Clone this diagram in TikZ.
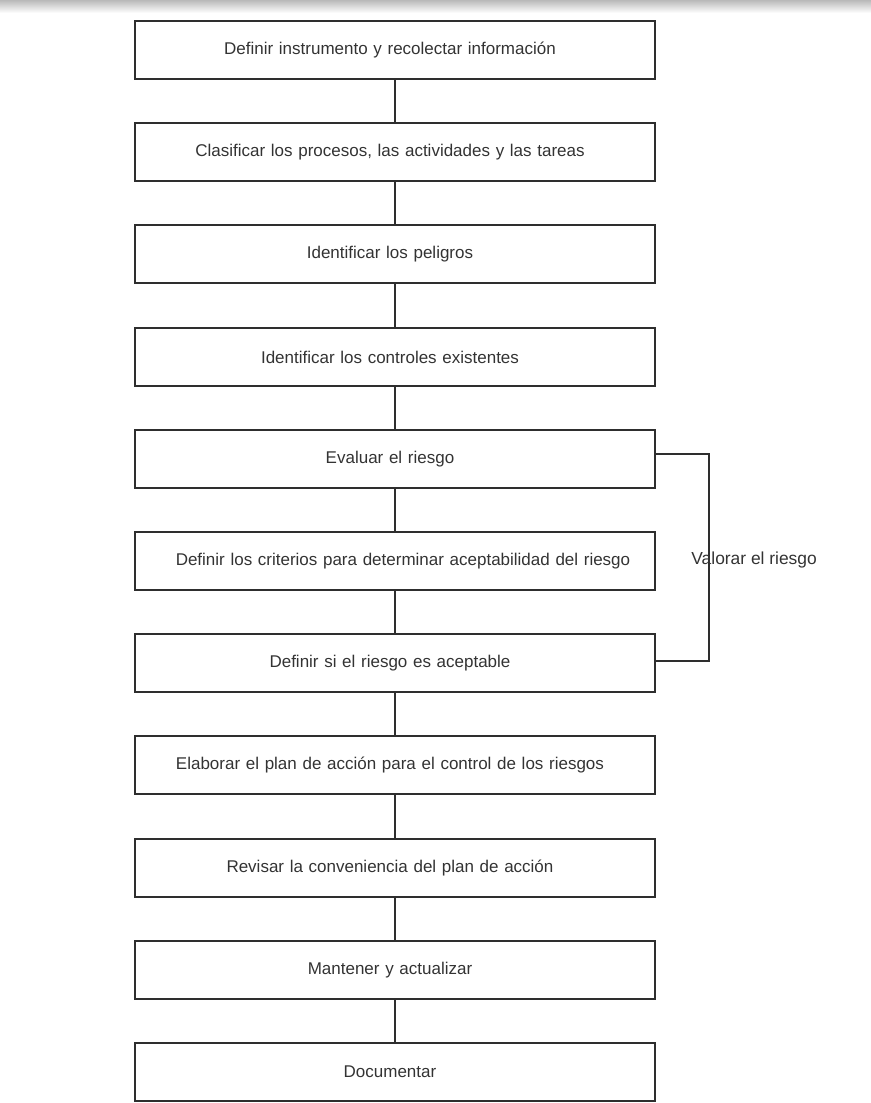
\documentclass[tikz,border=0pt]{standalone}
\usepackage{fontspec}
\setmainfont{Liberation Sans}
\usepackage{tikz}
\definecolor{linegray}{HTML}{2E2E2E}
\definecolor{textgray}{HTML}{333333}
\begin{document}
\begin{tikzpicture}[x=0.5pt, y=-0.5pt,
	shift text/.style={execute at begin node={\hspace*{#1}}},
	stepbox/.style={draw=linegray, line width=0.9pt, minimum height=29pt, text width=260pt, align=center, inner xsep=0pt, inner ysep=0pt, text=textgray, font=\fontsize{8.5}{10}\selectfont, shift text=-5pt},
	link/.style={draw=linegray, line width=0.9pt}]
	\useasboundingbox (0,0) rectangle (871,1103);
	% shadow strip along the top edge
	\shade [top color=gray!55, bottom color=white] (0,0) rectangle (871,13);
	\node [stepbox] (instr) at (395,50) {Definir instrumento y recolectar información};
	\node [stepbox] (clasif) at (395,152) {Clasificar los procesos, las actividades y las tareas};
	\node [stepbox] (pelig) at (395,254) {Identificar los peligros};
	\node [stepbox] (contr) at (395,357) {Identificar los controles existentes};
	\node [stepbox] (eval) at (395,459) {Evaluar el riesgo};
	\node [stepbox, shift text=13pt] (crit) at (395,561) {Definir los criterios para determinar aceptabilidad del riesgo};
	\node [stepbox] (acept) at (395,663) {Definir si el riesgo es aceptable};
	\node [stepbox] (plan) at (395,765) {Elaborar el plan de acción para el control de los riesgos};
	\node [stepbox] (revis) at (395,868) {Revisar la conveniencia del plan de acción};
	\node [stepbox] (mant) at (395,970) {Mantener y actualizar};
	\node [stepbox] (docu) at (395,1072) {Documentar};
	\foreach \a/\b in {instr/clasif,clasif/pelig,pelig/contr,contr/eval,eval/crit,crit/acept,acept/plan,plan/revis,revis/mant,mant/docu}
	\draw [link] (\a.south) -- (\b.north);
	% bracket for the valuation steps
	\coordinate (vtop) at (709,454);
	\coordinate (vbot) at (709,661);
	\draw [link] (eval.east |- vtop) -- (vtop) -- (vbot) -- (acept.east |- vbot);
	\node [anchor=west, text=textgray, inner sep=0pt, font=\fontsize{8.7}{10}\selectfont] (valor) at (691,560) {Valorar el riesgo};
\end{tikzpicture}
\end{document}
